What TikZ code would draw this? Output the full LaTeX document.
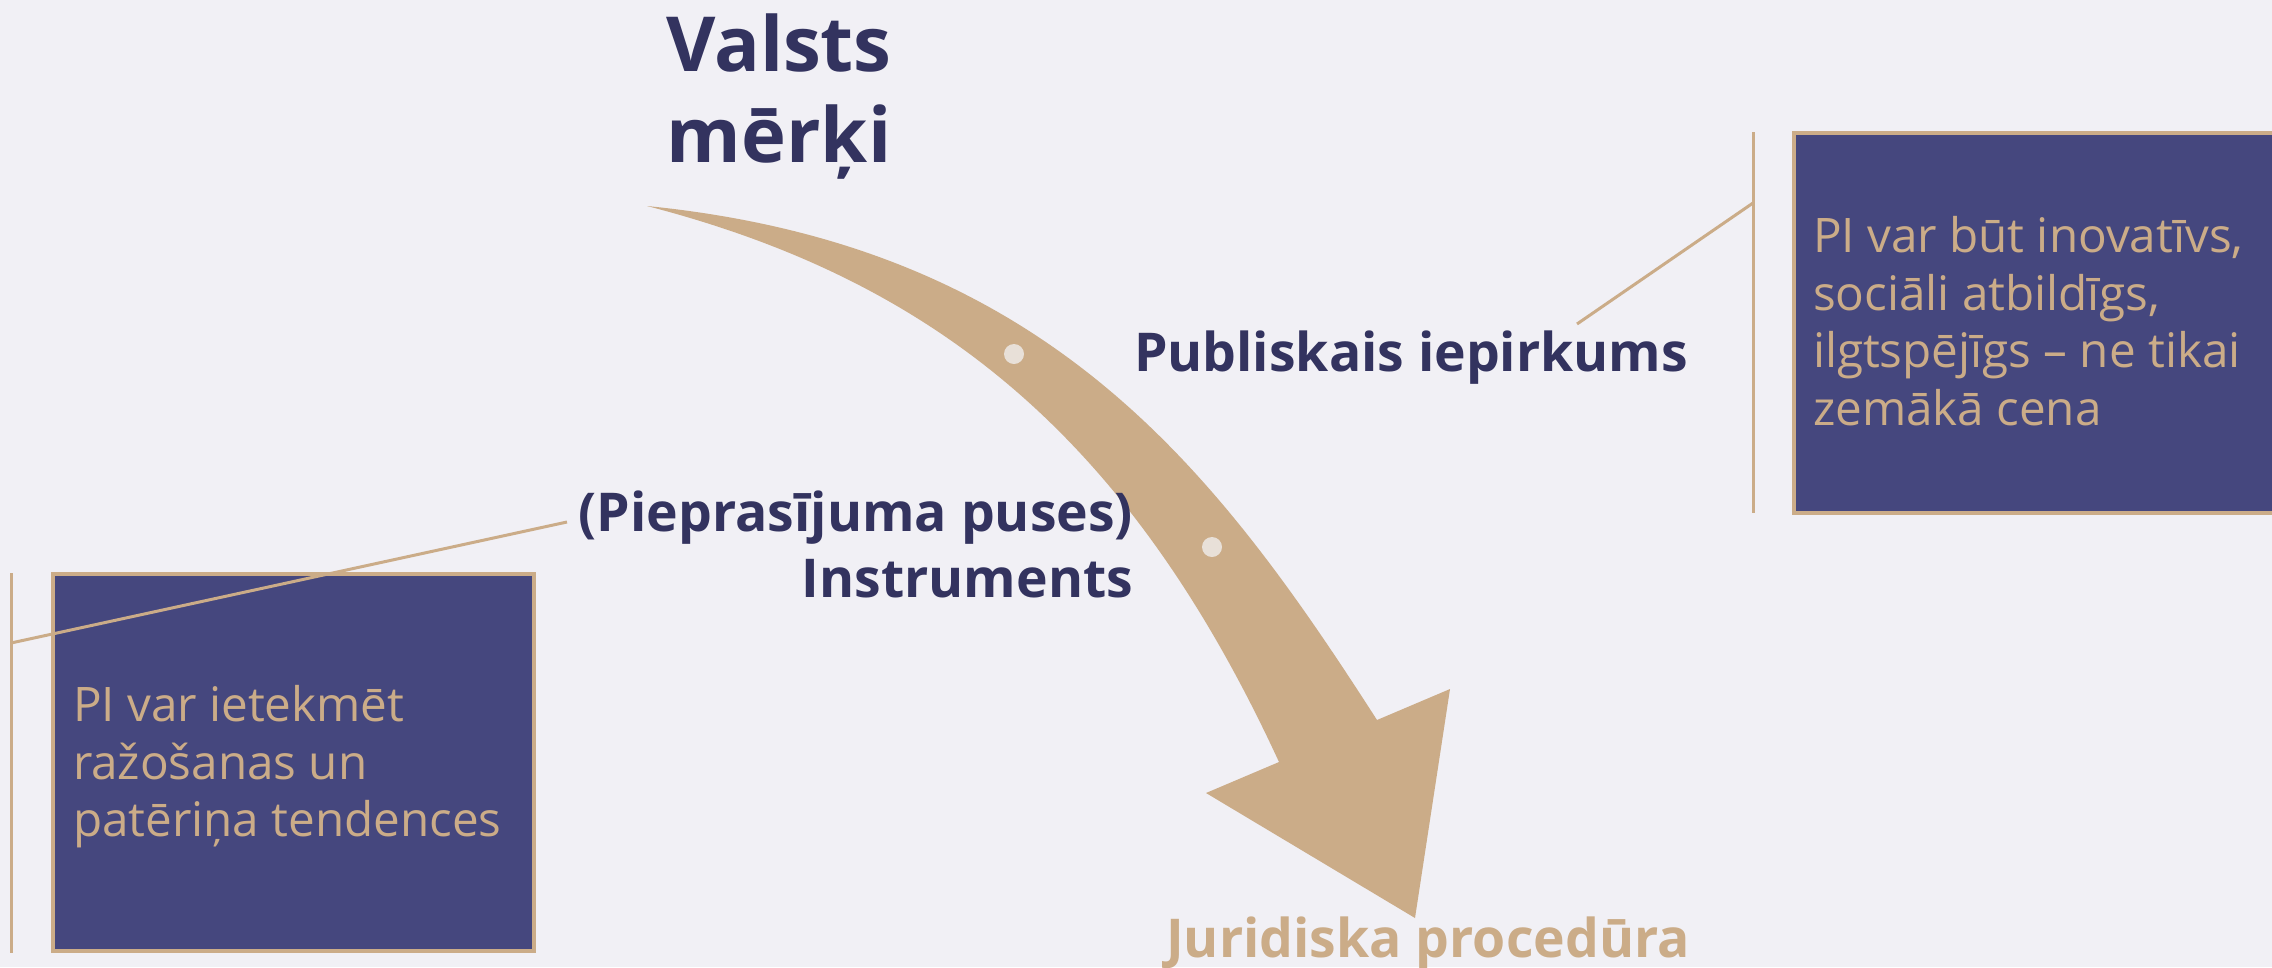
\documentclass[tikz,border=0pt]{standalone}
\usepackage{fontspec}
\setmainfont{Open Sans}
\definecolor{bg}{HTML}{F1F0F5}
\definecolor{navy}{HTML}{33335F}
\definecolor{boxblue}{HTML}{45477E}
\definecolor{tanc}{HTML}{CBAC88}
\definecolor{dotc}{HTML}{E8E0D8}
\begin{document}
\begin{tikzpicture}[x=1pt,y=-1pt,
  lbl/.style={text=navy,font=\fontsize{53.5}{66}\selectfont\bfseries,inner sep=0pt,outer sep=0pt},
  infobox/.style={draw=tanc,line width=4pt,fill=boxblue,inner sep=0pt,outer sep=0pt,rectangle},
  infotext/.style={text=tanc,font=\fontsize{47.6}{57.5}\selectfont,align=left,inner sep=0pt,outer sep=0pt},
  leader/.style={draw=tanc,line width=3pt}]
\path[use as bounding box] (0,0) rectangle (2272,967);
\clip (0,0) rectangle (2272,967);
\fill[bg] (0,0) rectangle (2272,967);
% curved arrow
\fill[tanc] (647,206) .. controls (1047,246) and (1215,468) .. (1377,720)
  -- (1450,689) -- (1415,918) -- (1206,793) -- (1279,762)
  .. controls (1130,439) and (937,281) .. (647,206) -- cycle;
\fill[dotc] (1014,354) circle (10);
\fill[dotc] (1212,547) circle (10);
% texts
\node[lbl,font=\fontsize{76}{91}\selectfont\bfseries,align=center,anchor=north] (title) at (779,14.2) {Valsts\\mērķi};
\node[lbl,anchor=base west] (pub) at (1134,371) {Publiskais iepirkums};
\node[lbl,align=right,anchor=north east] (instr) at (1133,491.3) {(Pieprasījuma puses)\\Instruments};
\node[lbl,text=tanc,anchor=base] (jur) at (1428,957) {Juridiska procedūra};
% boxes
\node[infobox,minimum width=600,minimum height=380,anchor=north west] (boxR) at (1794,133) {};
\node[infobox,minimum width=481,minimum height=377,anchor=north west] (boxL) at (53,574) {};
\node[infotext,anchor=north west] (txtR) at (1813,216.8) {PI var būt inovatīvs,\\sociāli atbildīgs,\\ilgtspējīgs – ne tikai\\zemākā cena};
\node[infotext,anchor=north west] (txtL) at (73,685.8) {PI var ietekmēt\\ražošanas un\\patēriņa tendences};
% leaders
\coordinate (rTop) at (1753,132);
\coordinate (rBot) at (1753,513);
\coordinate (rJoint) at (1753,203);
\coordinate (rEnd) at (1577,324);
\coordinate (lTop) at (11,573);
\coordinate (lBot) at (11,953);
\coordinate (lJoint) at (11,643);
\coordinate (lEnd) at (567,522);
\draw[leader] (rTop) -- (rBot);
\draw[leader] (rJoint) -- (rEnd);
\draw[leader] (lTop) -- (lBot);
\draw[leader] (lJoint) -- (lEnd);
\end{tikzpicture}
\end{document}
